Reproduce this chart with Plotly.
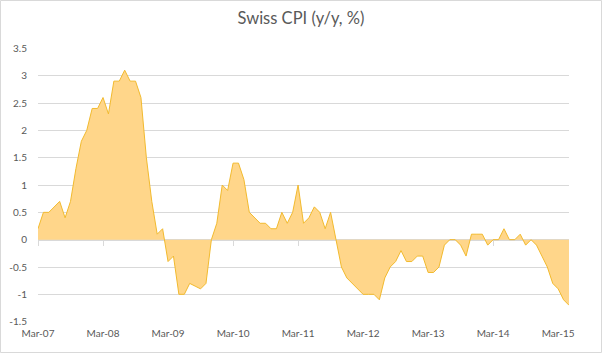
import plotly.graph_objects as go

# Monthly Swiss CPI y/y (%), Mar-07 .. May-15
cpi = [
    0.2, 0.5, 0.5, 0.6, 0.7, 0.4, 0.7, 1.3, 1.8, 2.0,                 # Mar-07..Dec-07
    2.4, 2.4, 2.6, 2.3, 2.9, 2.9, 3.1, 2.9, 2.9, 2.6, 1.5, 0.7,       # 2008
    0.1, 0.2, -0.4, -0.3, -1.0, -1.0, -0.8, -0.85, -0.9, -0.8, 0.0, 0.3,  # 2009
    1.0, 0.9, 1.4, 1.4, 1.1, 0.5, 0.4, 0.3, 0.3, 0.2, 0.2, 0.5,       # 2010
    0.3, 0.5, 1.0, 0.3, 0.4, 0.6, 0.5, 0.2, 0.5, 0.0, -0.5, -0.7,     # 2011
    -0.8, -0.9, -1.0, -1.0, -1.0, -1.1, -0.7, -0.5, -0.4, -0.2, -0.4, -0.4,  # 2012
    -0.3, -0.3, -0.6, -0.6, -0.5, -0.1, 0.0, 0.0, -0.1, -0.3, 0.1, 0.1,      # 2013
    0.1, -0.1, 0.0, 0.0, 0.2, 0.0, 0.0, 0.1, -0.1, 0.0, -0.1, -0.3,  # 2014
    -0.5, -0.8, -0.9, -1.1, -1.2,                                      # Jan-15..May-15
]
month_index = list(range(len(cpi)))

x_tick_pos = [0, 12, 24, 36, 48, 60, 72, 84, 96]
x_tick_labels = ["Mar-07", "Mar-08", "Mar-09", "Mar-10", "Mar-11",
                 "Mar-12", "Mar-13", "Mar-14", "Mar-15"]
y_tick_vals = [-1.5, -1, -0.5, 0, 0.5, 1, 1.5, 2, 2.5, 3, 3.5]
y_tick_labels = ["-1.5", "-1", "-0.5", "0", "0.5", "1", "1.5", "2", "2.5", "3", "3.5"]

y_min, y_max = -1.5, 3.5
pad = 0.006
x_max = len(cpi) - 1

W, H = 602, 353
L, R, T, B = 38, 33, 48, 31
pw, ph = W - L - R, H - T - B

FONT = "Lato, 'Open Sans', sans-serif"
GREY = "#595959"
GRID = "#D9D9D9"

fig = go.Figure()
fig.add_trace(go.Scatter(
    x=month_index, y=cpi, mode="lines",
    line=dict(color="#F2BA2E", width=1),
    fill="tozeroy", fillcolor="#FFD68A",
    hoverinfo="skip", showlegend=False,
))
# invisible trace to realise the zero-line axis
fig.add_trace(go.Scatter(
    x=[0, x_max], y=[0, 0], xaxis="x2", mode="lines",
    line=dict(width=0, color="rgba(0,0,0,0)"), hoverinfo="skip", showlegend=False,
))

fig.update_layout(
    width=W, height=H,
    margin=dict(l=L, r=R, t=T, b=B, autoexpand=False),
    paper_bgcolor="white", plot_bgcolor="white",
    font=dict(family=FONT, color=GREY, size=10),
    title=dict(text="Swiss CPI (y/y, %)", x=0.5, xref="container", xanchor="center",
               y=1 - 18 / H, yref="container", yanchor="middle",
               font=dict(family=FONT, size=16.5, color=GREY)),
    xaxis=dict(range=[0, x_max], tickmode="array", tickvals=x_tick_pos,
               ticktext=x_tick_labels, showgrid=False, zeroline=False,
               showline=False, ticks="outside", ticklen=2, automargin=False,
               tickcolor="rgba(0,0,0,0)", tickfont=dict(size=10, color=GREY)),
    xaxis2=dict(range=[0, x_max], overlaying="x", anchor="free",
                position=(0 - (y_min - pad)) / ((y_max + pad) - (y_min - pad)),
                tickmode="array", tickvals=x_tick_pos, showticklabels=False,
                ticks="outside", ticklen=5, tickcolor=GRID, tickwidth=1,
                showline=True, linecolor=GRID, linewidth=1, automargin=False,
                showgrid=False, zeroline=False, layer="below traces"),
    yaxis=dict(range=[y_min - pad, y_max + pad], tickmode="array", tickvals=y_tick_vals,
               ticktext=y_tick_labels, showgrid=True, gridcolor=GRID, gridwidth=1,
               zeroline=False, showline=False, ticks="outside", ticklen=8,
               automargin=False,
               tickcolor="rgba(0,0,0,0)", tickfont=dict(size=10, color=GREY)),
    shapes=[dict(type="rect", xref="paper", yref="paper",
                 x0=(-L + 0.5) / pw, x1=(pw + R - 0.5) / pw,
                 y0=(-B + 0.5) / ph, y1=(ph + T - 0.5) / ph,
                 line=dict(color=GRID, width=1), fillcolor="rgba(0,0,0,0)")],
)

fig.write_html("out.html")
